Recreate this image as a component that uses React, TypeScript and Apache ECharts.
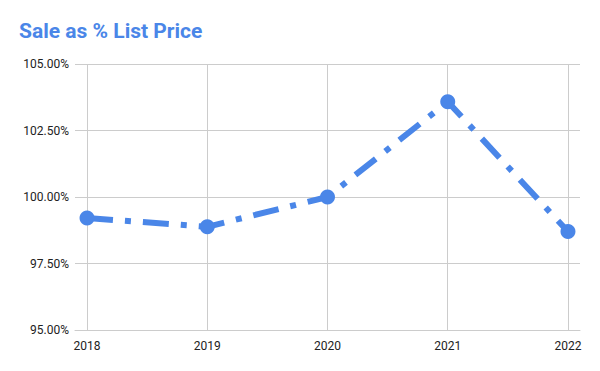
import React, { useEffect, useRef } from "react";
import * as echarts from "echarts";

const years = [2018, 2019, 2020, 2021, 2022];
const salePct = [99.21, 98.88, 100.0, 103.58, 98.7];
const yTicks = { min: 95, max: 105, interval: 2.5 };

export default function App() {
  const ref = useRef<HTMLDivElement>(null);
  useEffect(() => {
    if (!ref.current) return;
    const chart = echarts.init(ref.current, null, { renderer: "svg" });
    const blue = "#4a86e8";
    chart.setOption({
      animation: false,
      backgroundColor: "#ffffff",
      title: {
        text: "Sale as % List Price",
        left: 14,
        top: 15,
        textStyle: {
          color: blue,
          fontFamily: "Roboto, Arial, sans-serif",
          fontWeight: "bold",
          fontSize: 21,
        },
      },
      grid: { left: 75, right: 20, top: 64, bottom: 41, containLabel: false },
      xAxis: {
        type: "value",
        min: years[0] - 0.1,
        max: years[years.length - 1] + 0.1,
        axisLine: { show: true, lineStyle: { color: "#cccccc", width: 1 } },
        axisTick: { show: false, customValues: years },
        axisLabel: {
          customValues: years,
          margin: 10,
          color: "#222222",
          fontSize: 12,
          fontFamily: "Roboto, Arial, sans-serif",
          formatter: (v: number) => String(Math.round(v)),
        },
        splitLine: { show: true, lineStyle: { color: "#cccccc", width: 1 } },
      },
      yAxis: {
        type: "value",
        min: yTicks.min,
        max: yTicks.max,
        interval: yTicks.interval,
        axisLine: { show: false },
        axisTick: { show: false },
        axisLabel: {
          margin: 6,
          color: "#222222",
          fontSize: 12,
          fontFamily: "Roboto, Arial, sans-serif",
          formatter: (v: number) => v.toFixed(2) + "%",
        },
        splitLine: { show: true, lineStyle: { color: "#cccccc", width: 1 } },
      },
      series: [
        {
          type: "line",
          data: years.map((y, i) => [y, salePct[i]]),
          symbol: "circle",
          symbolSize: 15,
          itemStyle: { color: blue },
          lineStyle: { color: blue, width: 6, type: [26, 12, 6, 12], cap: "butt" },
        },
      ],
    });
    return () => chart.dispose();
  }, []);
  return <div ref={ref} style={{ width: 600, height: 371, position: "absolute", left: 0, top: 0 }} />;
}
